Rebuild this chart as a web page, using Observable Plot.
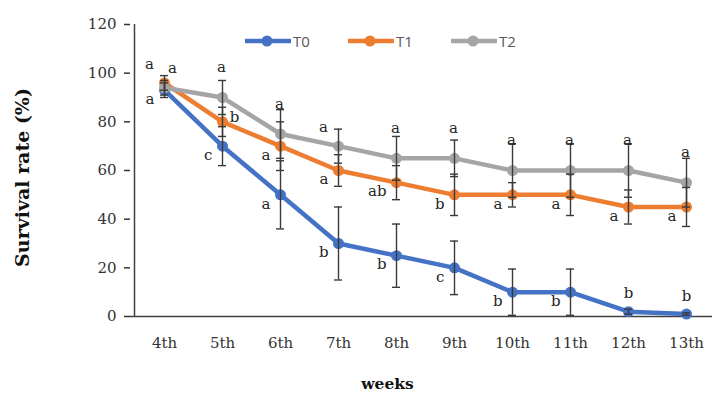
<!DOCTYPE html>
<html>
<head>
<meta charset="utf-8">
<script src="https://cdn.jsdelivr.net/npm/d3@7"></script>
<script src="https://cdn.jsdelivr.net/npm/@observablehq/plot@0.6"></script>
<style>
  html, body { margin: 0; padding: 0; background: #fff; }
  #wrap { position: relative; width: 712px; height: 404px; }
  #legend { position: absolute; left: 245px; top: 31px; display: flex; font-family: "Open Sans", "DejaVu Sans", sans-serif; font-size: 15px; color: #595959; }
  #legend .item { display: flex; align-items: center; width: 103px; }
  #legend svg { margin-right: 2px; }
</style>
</head>
<body>
<div id="wrap"><div id="legend"></div></div>
<script>
const weeks = ["4th","5th","6th","7th","8th","9th","10th","11th","12th","13th"];
const seriesNames = ["T0","T1","T2"];
const seriesColors = ["#4472C4","#ED7D31","#A5A5A5"];

const t0 = [93, 70, 50, 30, 25, 20, 10, 10, 2, 1];
const t1 = [96, 80, 70, 60, 55, 50, 50, 50, 45, 45];
const t2 = [94, 90, 75, 70, 65, 65, 60, 60, 60, 55];

const t0Err = [3, 8, 14, 15, 13, 11, 9.5, 9.5, 1, 0.5];
const t1Err = [3, 6, 10, 6.5, 7, 8.5, 5, 8.5, 7, 8];
const t2Err = [3, 7, 10, 7, 9, 7.5, 11, 11, 11, 10];

const t0Letters = ["a","c","a","b","b","c","b","b","b","b"];
const t1Letters = ["a","b","a","a","ab","b","a","a","a","a"];
const t2Letters = ["a","a","a","a","a","a","a","a","a","a"];

const t0Place = ["left","left","left","left","left","left","left","left","top","top"];
const t1Place = ["upleft","right","left","left","left","left","left","left","left","left"];
const t2Place = ["upright","above","above","upleft","above","above","above","above","above","above"];

const yTicks = [0, 20, 40, 60, 80, 100, 120];

const values = [t0, t1, t2];
const errs = [t0Err, t1Err, t2Err];
const letters = [t0Letters, t1Letters, t2Letters];
const places = [t0Place, t1Place, t2Place];

const data = seriesNames.flatMap((s, k) => weeks.map((w, i) => ({
  series: s, week: w, value: values[k][i],
  lo: Math.max(0, values[k][i] - errs[k][i]), hi: values[k][i] + errs[k][i],
  letter: letters[k][i], place: places[k][i]
})));

const serif = "DejaVu Serif, Liberation Serif, serif";
const textBase = {x: "week", y: "value", text: "letter", fontFamily: serif, fontSize: 15, fill: "#262626", lineAnchor: "middle"};
const placeOpts = {
  left: {textAnchor: "end", dx: -10, dy: 9},
  above: {textAnchor: "middle", dx: -1, dy: -30},
  top: {textAnchor: "middle", dx: 0, dy: -18},
  upleft: {textAnchor: "middle", dx: -15, dy: -19},
  upright: {textAnchor: "middle", dx: 8, dy: -20},
  right: {textAnchor: "middle", dx: 12, dy: -5}
};

const ebColor = "#3a3a3a";
const marks = [
  Plot.ruleY([0], {stroke: "#404040", strokeWidth: 1.5}),
  Plot.ruleX([weeks[0]], {dx: -30, stroke: "#404040", strokeWidth: 1.5}),
  Plot.axisY({ticks: yTicks, tickSize: 6, tickPadding: 8, label: null, fontSize: 15, fontFamily: serif, color: "#333", strokeWidth: 1.5}),
  Plot.axisX({tickSize: 0, tickPadding: 21, label: null, fontSize: 15, fontFamily: serif, color: "#333"}),
];
seriesNames.forEach((s, k) => {
  const d = data.filter(r => r.series === s);
  marks.push(Plot.line(d, {x: "week", y: "value", stroke: seriesColors[k], strokeWidth: 4.5, strokeLinejoin: "round"}));
  marks.push(Plot.dot(d, {x: "week", y: "value", r: 5.5, fill: seriesColors[k]}));
});
marks.push(Plot.ruleX(data, {x: "week", y1: "lo", y2: "hi", stroke: ebColor, strokeWidth: 1.4}));
marks.push(Plot.ruleY(data, {y: "hi", x1: "week", x2: "week", insetLeft: -4, insetRight: -4, stroke: ebColor, strokeWidth: 1.4}));
marks.push(Plot.ruleY(data, {y: "lo", x1: "week", x2: "week", insetLeft: -4, insetRight: -4, stroke: ebColor, strokeWidth: 1.4}));
Object.keys(placeOpts).forEach(p => {
  marks.push(Plot.text(data.filter(r => r.place === p), {...textBase, ...placeOpts[p]}));
});
marks.push(Plot.text(["Survival rate (%)"], {frameAnchor: "left", textAnchor: "middle", dx: -108, dy: 7, rotate: -90, fontFamily: serif, fontWeight: "bold", fontSize: 19, fill: "#111"}));
marks.push(Plot.text(["weeks"], {frameAnchor: "bottom", textAnchor: "middle", dx: -34, dy: 72, fontFamily: serif, fontWeight: "bold", fontSize: 15.5, fill: "#111"}));

const chart = Plot.plot({
  width: 712,
  height: 404,
  marginLeft: 130,
  marginRight: 0,
  marginTop: 24,
  marginBottom: 88,
  style: {background: "#fff", overflow: "visible"},
  x: {type: "point", domain: weeks, range: [160, 690], padding: 0},
  y: {domain: [0, 120]},
  marks
});
document.getElementById("wrap").prepend(chart);

const legend = document.getElementById("legend");
seriesNames.forEach((s, k) => {
  const item = document.createElement("div");
  item.className = "item";
  item.innerHTML = `<svg width="46" height="16"><line x1="1" y1="8" x2="45" y2="8" stroke="${seriesColors[k]}" stroke-width="4.5" stroke-linecap="round"/><circle cx="22" cy="8" r="5.5" fill="${seriesColors[k]}"/></svg><span>${s}</span>`;
  legend.appendChild(item);
});
</script>
</body>
</html>
